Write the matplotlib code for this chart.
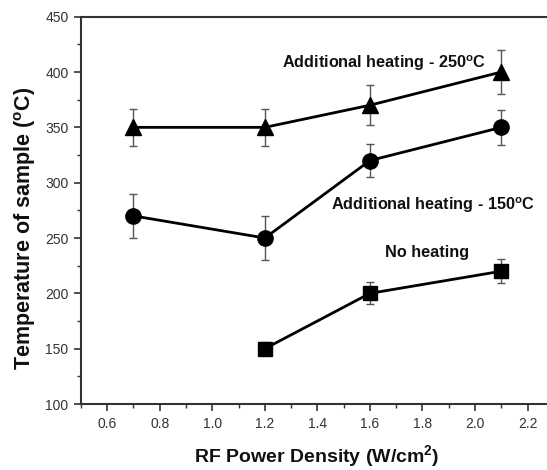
import matplotlib
matplotlib.use('Agg')
import matplotlib.pyplot as plt
from matplotlib.ticker import MultipleLocator

plt.rcParams['font.family'] = ['Liberation Sans', 'DejaVu Sans']
plt.rcParams['mathtext.fontset'] = 'custom'
plt.rcParams['mathtext.rm'] = 'Liberation Sans:bold'
plt.rcParams['mathtext.default'] = 'rm'

# data
x_250 = [0.7, 1.2, 1.6, 2.1]
t_250 = [350, 350, 370, 400]
e_250 = [17, 17, 18, 20]

x_150 = [0.7, 1.2, 1.6, 2.1]
t_150 = [270, 250, 320, 350]
e_150 = [20, 20, 15, 16]

x_none = [1.2, 1.6, 2.1]
t_none = [150, 200, 220]
e_none = [6, 10, 11]

fig = plt.figure(figsize=(5.47, 4.70), dpi=100)
ax = fig.add_axes([0.148, 0.1404, 0.852, 0.8241])

series = [(x_250, t_250, e_250, '^', 12),
          (x_150, t_150, e_150, 'o', 11),
          (x_none, t_none, e_none, 's', 9.5)]
for xs, ys, es, mk, ms in series:
    ax.errorbar(xs, ys, yerr=es, fmt='none', ecolor='#555555', elinewidth=1.0,
                capsize=2.8, capthick=1.0, zorder=2)
    ax.plot(xs, ys, '-', color='black', lw=2.0, marker=mk, ms=ms, zorder=3)

ax.text(1.655, 408, r'Additional heating - 250$^{o}$C', fontsize=11.7,
        fontweight='bold', ha='center', va='center', color='#111111')
ax.text(1.84, 280, r'Additional heating - 150$^{o}$C', fontsize=11.7,
        fontweight='bold', ha='center', va='center', color='#111111')
ax.text(1.817, 236.5, 'No heating', fontsize=11.7,
        fontweight='bold', ha='center', va='center', color='#111111')

ax.set_xlim(0.5, 2.274)
ax.set_ylim(100, 450)
ax.xaxis.set_major_locator(MultipleLocator(0.2))
ax.xaxis.set_minor_locator(MultipleLocator(0.1))
ax.yaxis.set_major_locator(MultipleLocator(50))
ax.yaxis.set_minor_locator(MultipleLocator(25))
ax.xaxis.set_major_formatter(matplotlib.ticker.FormatStrFormatter('%.1f'))

for s in ['left', 'top', 'bottom']:
    ax.spines[s].set_linewidth(1.5)
    ax.spines[s].set_color('#333333')
ax.spines['right'].set_visible(False)
ax.tick_params(which='major', direction='out', length=5, width=1.2,
               labelsize=10, colors='#333333', pad=4)
ax.tick_params(which='minor', direction='out', length=3, width=1.0, colors='#333333')
ax.tick_params(top=False, right=False)

ax.set_xlabel(r'RF Power Density (W/cm$^{2}$)', fontsize=14, color='#111111')
ax.set_ylabel(r'Temperature of sample ($^{o}$C)', fontsize=15.5, color='#111111')
ax.xaxis.label.set_fontweight('bold')
ax.yaxis.label.set_fontweight('bold')
ax.xaxis.set_label_coords(0.506, -0.1)
ax.yaxis.set_label_coords(-0.092, 0.454)

fig.savefig('out.png', dpi=100)
